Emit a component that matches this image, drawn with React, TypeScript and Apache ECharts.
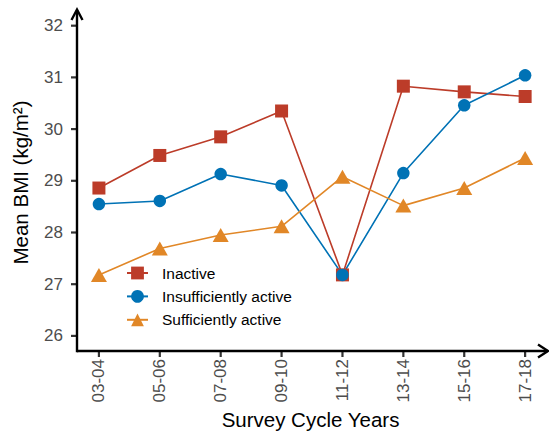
import React, { useEffect, useRef } from "react";
import * as echarts from "echarts";

const categories = ["03-04", "05-06", "07-08", "09-10", "11-12", "13-14", "15-16", "17-18"];
const inactive = [28.86, 29.49, 29.85, 30.35, 27.18, 30.83, 30.72, 30.63];
const insufficient = [28.55, 28.61, 29.13, 28.91, 27.18, 29.15, 30.46, 31.04];
const sufficient = [27.18, 27.69, 27.95, 28.12, 29.08, 28.52, 28.86, 29.44];
const yTicks = [26, 27, 28, 29, 30, 31, 32];

const FONT = "Liberation Sans, Arial, sans-serif";
const X_MIN = -0.36;
const X_MAX = 7.31;
const Y_MIN = 25.708;
const Y_MAX = 32.226;

export default function App() {
  const ref = useRef<HTMLDivElement>(null);
  useEffect(() => {
    if (!ref.current) return;
    const chart = echarts.init(ref.current, undefined, { renderer: "svg" });
    const mk = (arr: number[]) => arr.map((v, i) => [i, v]);
    const xTickVals = categories.map((_, i) => i);
    chart.setOption({
      animation: false,
      backgroundColor: "#ffffff",
      textStyle: { fontFamily: FONT },
      grid: { left: 77, right: 5, top: 14, bottom: 81, containLabel: false, outerBoundsMode: "none" },
      legend: {
        orient: "vertical",
        left: 121,
        top: 260,
        itemWidth: 21,
        itemHeight: 16,
        itemGap: 7.4,
        textStyle: { fontSize: 15.5, color: "#000", fontFamily: FONT, padding: [0, 0, 0, 9] },
        data: ["Inactive", "Insufficiently active", "Sufficiently active"],
      },
      xAxis: {
        type: "value",
        min: X_MIN,
        max: X_MAX,
        name: "Survey Cycle Years",
        nameLocation: "middle",
        nameGap: 58,
        nameMoveOverlap: false,
        nameTextStyle: { fontSize: 20.5, color: "#000", fontFamily: FONT },
        splitLine: { show: false },
        axisLine: { show: false, onZero: false },
        axisTick: { show: false },
        axisLabel: {
          rotate: 90,
          fontSize: 17,
          color: "#4D4D4D",
          margin: 8,
          customValues: xTickVals,
          formatter: (v: number) => categories[Math.round(v)] ?? "",
        },
      },
      yAxis: {
        type: "value",
        min: Y_MIN,
        max: Y_MAX,
        name: "Mean BMI (kg/m²)",
        nameLocation: "middle",
        nameGap: 46,
        nameMoveOverlap: false,
        nameTextStyle: { fontSize: 20.5, color: "#000", fontFamily: FONT },
        splitLine: { show: false },
        axisLine: { show: false, onZero: false },
        axisTick: { show: false },
        axisLabel: {
          fontSize: 17,
          color: "#4D4D4D",
          margin: 14,
          customValues: yTicks,
        },
      },
      series: [
        {
          name: "Inactive",
          type: "line",
          data: mk(inactive),
          symbol: "rect",
          symbolSize: 13,
          color: "#BC3C29",
          lineStyle: { width: 1.6, color: "#BC3C29" },
          itemStyle: { color: "#BC3C29" },
        },
        {
          name: "Insufficiently active",
          type: "line",
          data: mk(insufficient),
          symbol: "circle",
          symbolSize: 12.5,
          color: "#0072B5",
          lineStyle: { width: 1.6, color: "#0072B5" },
          itemStyle: { color: "#0072B5" },
        },
        {
          name: "Sufficiently active",
          type: "line",
          data: mk(sufficient),
          symbol: "triangle",
          symbolSize: [16, 14],
          color: "#E18727",
          lineStyle: { width: 1.6, color: "#E18727" },
          itemStyle: { color: "#E18727" },
        },
      ],
    });

    // axis lines, arrows and ticks derived from the chart's own scales
    const px = (x: number, y: number) => chart.convertToPixel({ gridIndex: 0 }, [x, y]) as number[];
    const o = px(X_MIN, Y_MIN);
    const xe = px(X_MAX, Y_MIN);
    const ye = px(X_MIN, Y_MAX);
    const axisStyle = { stroke: "#000", lineWidth: 2.4, lineCap: "butt" };
    const tickStyle = { stroke: "#333", lineWidth: 2.2 };
    const elems: any[] = [];
    elems.push({ type: "line", shape: { x1: o[0], y1: o[1], x2: xe[0] + 3.5, y2: o[1] }, style: axisStyle, z: 10 });
    elems.push({ type: "line", shape: { x1: o[0], y1: o[1] + 1.2, x2: o[0], y2: ye[1] - 3.5 }, style: axisStyle, z: 10 });
    elems.push({
      type: "polyline",
      shape: { points: [[xe[0] - 6, o[1] - 6.5], [xe[0] + 4, o[1]], [xe[0] - 6, o[1] + 6.5]] },
      style: { stroke: "#000", lineWidth: 2.4, fill: "none", lineJoin: "miter" },
      z: 10,
    });
    elems.push({
      type: "polyline",
      shape: { points: [[o[0] - 5.5, ye[1] + 6], [o[0], ye[1] - 4.5], [o[0] + 5.5, ye[1] + 6]] },
      style: { stroke: "#000", lineWidth: 2.4, fill: "none", lineJoin: "miter" },
      z: 10,
    });
    yTicks.forEach((t) => {
      const p = px(X_MIN, t);
      elems.push({ type: "line", shape: { x1: o[0] - 6, y1: p[1], x2: o[0], y2: p[1] }, style: tickStyle, z: 9 });
    });
    xTickVals.forEach((t) => {
      const p = px(t, Y_MIN);
      elems.push({ type: "line", shape: { x1: p[0], y1: o[1], x2: p[0], y2: o[1] + 6 }, style: tickStyle, z: 9 });
    });
    chart.setOption({ graphic: elems });

    return () => chart.dispose();
  }, []);
  return <div ref={ref} style={{ width: 549, height: 432, position: "absolute", left: 0, top: 0 }} />;
}
